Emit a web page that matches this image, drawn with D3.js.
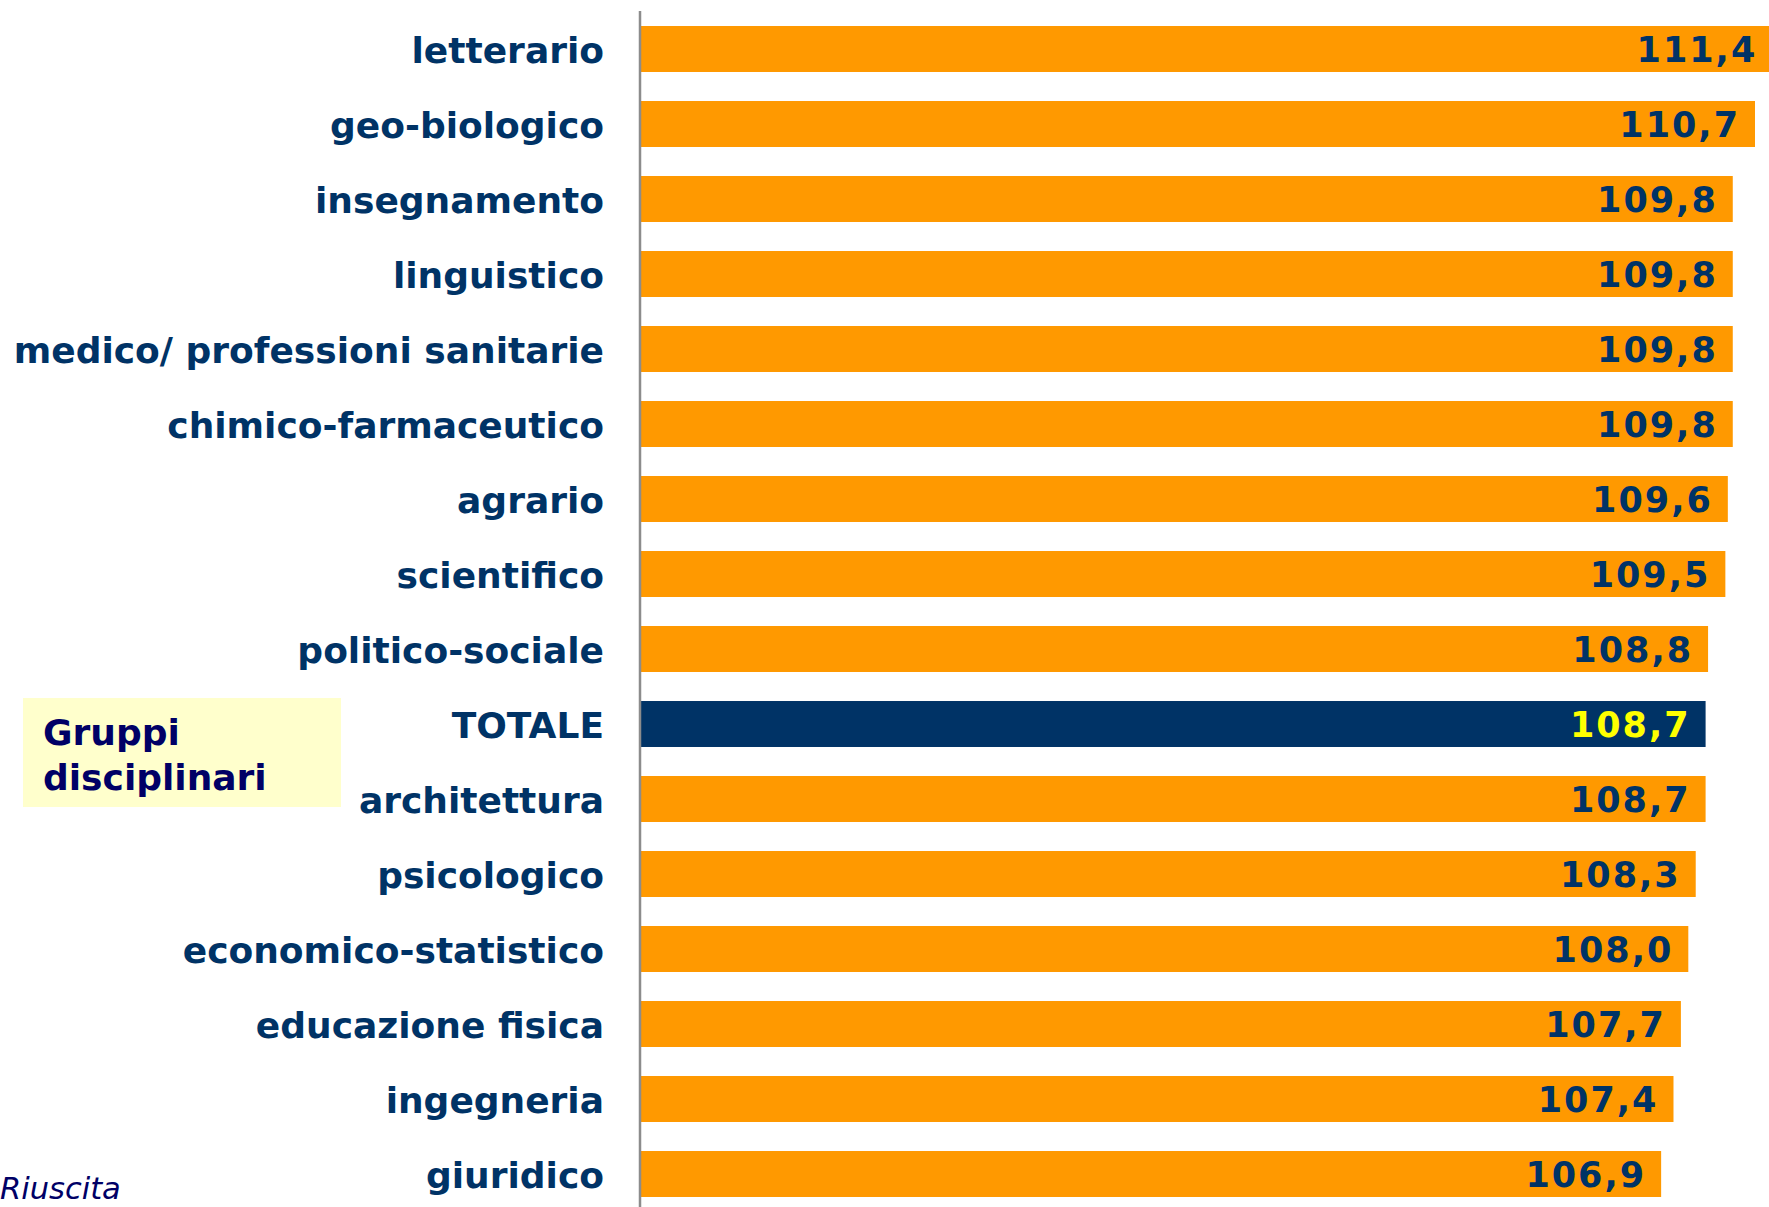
<!DOCTYPE html>
<html>
<head>
<meta charset="utf-8">
<script src="https://cdn.jsdelivr.net/npm/d3@7"></script>
<style>
  html, body { margin: 0; padding: 0; background: #ffffff; overflow: hidden; }
  svg { display: block; }
</style>
</head>
<body>
<svg id="chart"></svg>
<script>
// data
var categories = ["letterario", "geo-biologico", "insegnamento", "linguistico",
	"medico/ professioni sanitarie", "chimico-farmaceutico", "agrario", "scientifico",
	"politico-sociale", "TOTALE", "architettura", "psicologico", "economico-statistico",
	"educazione fisica", "ingegneria", "giuridico"];
var values = [111.4, 110.7, 109.8, 109.8, 109.8, 109.8, 109.6, 109.5,
	108.8, 108.7, 108.7, 108.3, 108.0, 107.7, 107.4, 106.9];
var totalLabel = "TOTALE";
var boxLines = ["Gruppi", "disciplinari"];
var cornerNote = "Riuscita";

var W = 1769, H = 1207;
var orange = "#FF9900", navy = "#003366", ink = "#000066";

var svg = d3.select("#chart").attr("width", W).attr("height", H);

// scales
var x = d3.scaleLinear()
	.domain([65.6, 110.7])
	.range([641, 1755]);

var y = d3.scaleBand()
	.domain(categories)
	.range([11.5, 1211.5])
	.paddingInner(0.387)
	.paddingOuter(0.1935);

var rows = categories.map(function(c, i){ return {cat: c, val: values[i]}; });

// bars
svg.append("g").attr("class", "bars")
	.selectAll("rect")
	.data(rows)
	.enter().append("rect")
		.attr("x", x.range()[0])
		.attr("y", function(d){ return y(d.cat); })
		.attr("width", function(d){ return x(d.val) - x.range()[0]; })
		.attr("height", y.bandwidth())
		.attr("fill", function(d){ return d.cat === totalLabel ? navy : orange; });

// value labels
var fmt = function(v){ return d3.format(".1f")(v).replace(".", ","); };
svg.append("g").attr("class", "values")
	.selectAll("text")
	.data(rows)
	.enter().append("text")
		.attr("x", function(d){ return x(d.val) - 15; })
		.attr("y", function(d){ return y(d.cat) + y.bandwidth() / 2; })
		.attr("dy", "0.37em")
		.attr("text-anchor", "end")
		.attr("font-family", "'DejaVu Sans', Verdana, sans-serif")
		.attr("font-weight", "bold")
		.attr("font-size", "35px")
		.attr("letter-spacing", "2px")
		.attr("fill", function(d){ return d.cat === totalLabel ? "#FFFF00" : navy; })
		.text(function(d){ return fmt(d.val); });

// category axis (labels only + vertical line)
var axis = d3.axisLeft(y).tickSize(0).tickPadding(0);
var gAxis = svg.append("g")
	.attr("transform", "translate(604,0)")
	.call(axis);
gAxis.select(".domain").remove();
gAxis.selectAll("text")
	.attr("dy", "0.4em")
	.attr("font-family", "'DejaVu Sans', Tahoma, sans-serif")
	.attr("font-weight", "bold")
	.attr("font-size", "36px")
	.attr("fill", navy);

svg.append("line")
	.attr("x1", 640).attr("x2", 640)
	.attr("y1", 11).attr("y2", H)
	.attr("stroke", "#8c8c8c")
	.attr("stroke-width", 2.5);

// group box
svg.append("rect")
	.attr("x", 23).attr("y", 698)
	.attr("width", 318).attr("height", 109)
	.attr("fill", "#FFFFCC");
svg.append("g").selectAll("text")
	.data(boxLines)
	.enter().append("text")
		.attr("x", 43)
		.attr("y", function(d, i){ return 745 + i * 45; })
		.attr("font-family", "'DejaVu Sans', Tahoma, sans-serif")
		.attr("font-weight", "bold")
		.attr("font-size", "36px")
		.attr("fill", ink)
		.text(function(d){ return d; });

svg.append("text")
	.attr("x", 0).attr("y", 1199)
	.attr("font-family", "'DejaVu Sans', Verdana, sans-serif")
	.attr("font-style", "italic")
	.attr("font-size", "30.5px")
	.attr("fill", ink)
	.text(cornerNote);
</script>
</body>
</html>
